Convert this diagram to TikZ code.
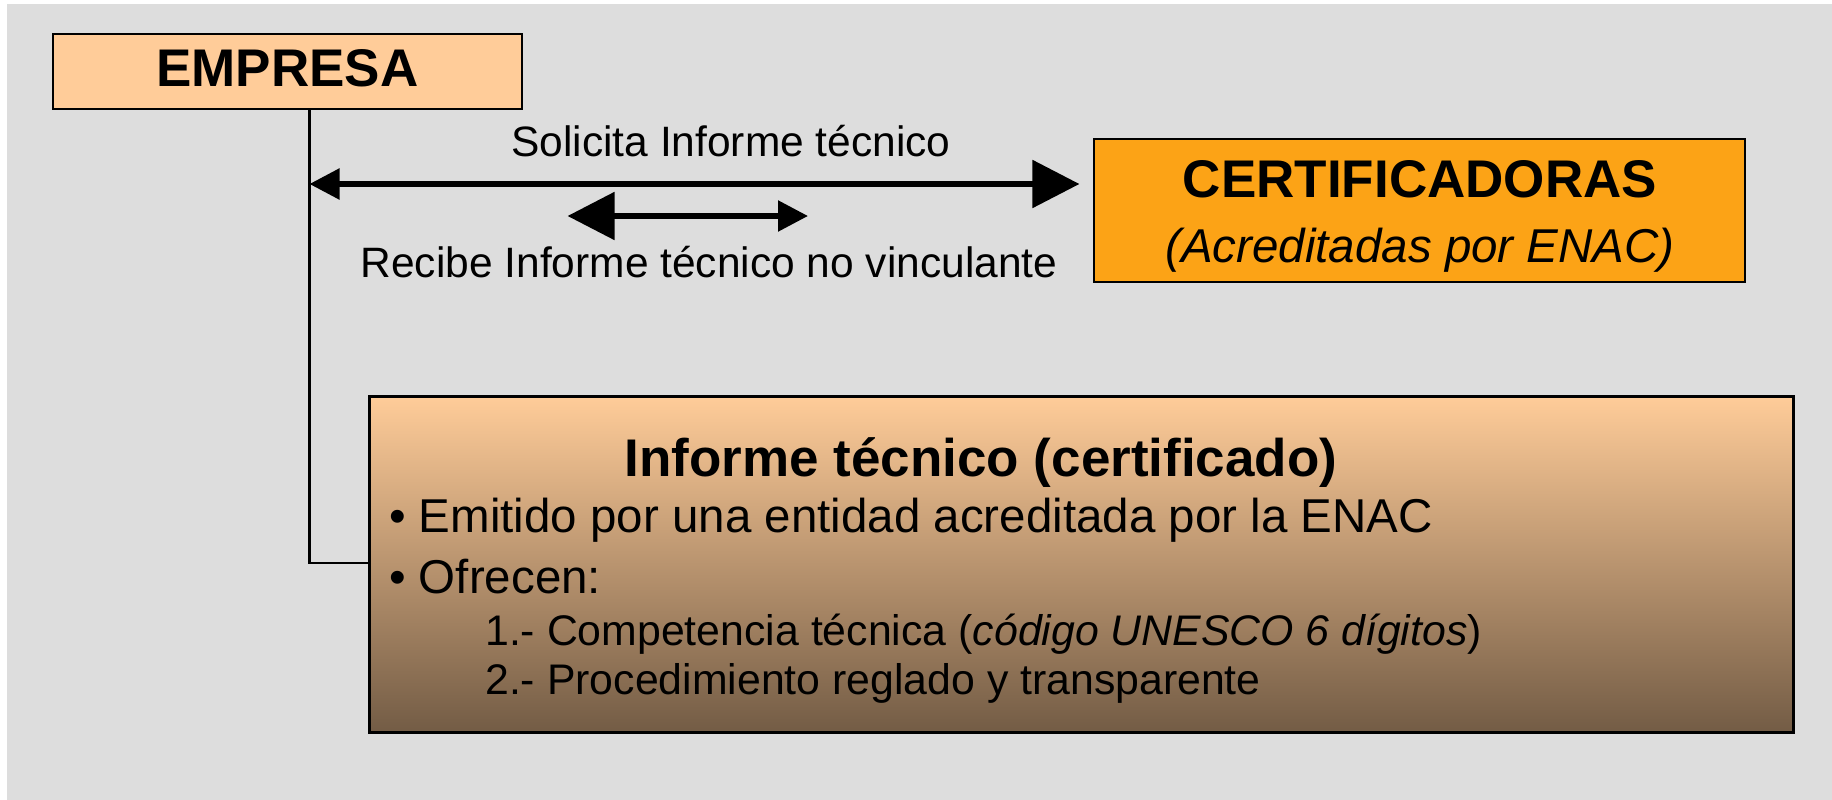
\documentclass[tikz,border=0pt]{standalone}
\usepackage{fontspec}
\setmainfont{Liberation Sans}
\usetikzlibrary{arrows.meta}
\definecolor{bggrey}{HTML}{DDDDDD}
\definecolor{peach}{HTML}{FFCC99}
\definecolor{orng}{HTML}{FCA316}
\definecolor{darkbrn}{HTML}{735C45}
\newcommand\headfont{\fontsize{53}{60}\selectfont\bfseries}
\newcommand\bodyfont{\fontsize{47.5}{55}\selectfont}
\newcommand\subfont{\fontsize{42.8}{50}\selectfont}
\newcommand\lblfont{\fontsize{42.5}{50}\selectfont}
\begin{document}
\begin{tikzpicture}[x=1pt,y=-1pt,
  box/.style={draw=black, line width=2pt, inner sep=0pt, rectangle},
  txt/.style={inner sep=0pt},
  conn/.style={line width=2.5pt, black},
  bigarrow/.style={line width=5.5pt, black}]
\useasboundingbox (0,0) rectangle (1832,800);
\fill[white] (0,0) rectangle (1832,800);
\fill[bggrey] (7,4) rectangle (1832,800);

% boxes
\node[box, fill=peach, minimum width=469.4pt, minimum height=74.6pt] (empresa) at (287.3,71.3) {};
\node[txt, anchor=base, font=\headfont] (empresaT) at (287.3,86.7) {EMPRESA};

\node[box, fill=orng, minimum width=650.6pt, minimum height=142.5pt] (cert) at (1419.7,210.3) {};
\node[txt, anchor=base, font=\headfont] (certT) at (1420,197.3) {CERTIFICADORAS};
\node[txt, anchor=base, font=\bodyfont\itshape] (certS) at (1420,262.7) {(Acreditadas por ENAC)};

\node[draw=black, line width=3pt, rectangle, inner sep=0pt, top color=peach, bottom color=darkbrn,
      minimum width=1424pt, minimum height=336pt] (info) at (1081,564) {};
\node[txt, anchor=base, font=\headfont] (infoT) at (981,476) {Informe técnico (certificado)};
\node[txt, anchor=base west, font=\bodyfont] (l1) at (389,532) {• Emitido por una entidad acreditada por la ENAC};
\node[txt, anchor=base west, font=\bodyfont] (l2) at (389,593) {• Ofrecen:};
\node[txt, anchor=base west, font=\subfont] (l3) at (485,645) {1.- Competencia técnica (\textit{código UNESCO 6 dígitos})};
\node[txt, anchor=base west, font=\subfont] (l4) at (485,694) {2.- Procedimiento reglado y transparente};

% arrow labels
\node[txt, anchor=base, font=\lblfont] (sol) at (731,156) {Solicita Informe técnico};
\node[txt, anchor=base, font=\lblfont] (rec) at (709,277) {Recibe Informe técnico no vinculante};

% connectors
\coordinate (elbow) at (309.5,563);
\draw[conn] (elbow |- empresa.south) -- (elbow) -- (elbow -| info.west);

\coordinate (la) at (309.5,184);
\draw[bigarrow, {Triangle[length=30pt,width=30pt]}-{Triangle[length=47pt,width=47pt]}]
  (la) -- ([xshift=-14pt]cert.west |- la);

\coordinate (ra) at (567.6,216);
\coordinate (rb) at (808,216);
\draw[bigarrow, {Triangle[length=47pt,width=47pt]}-{Triangle[length=30pt,width=30pt]}] (ra) -- (rb);
\end{tikzpicture}
\end{document}
